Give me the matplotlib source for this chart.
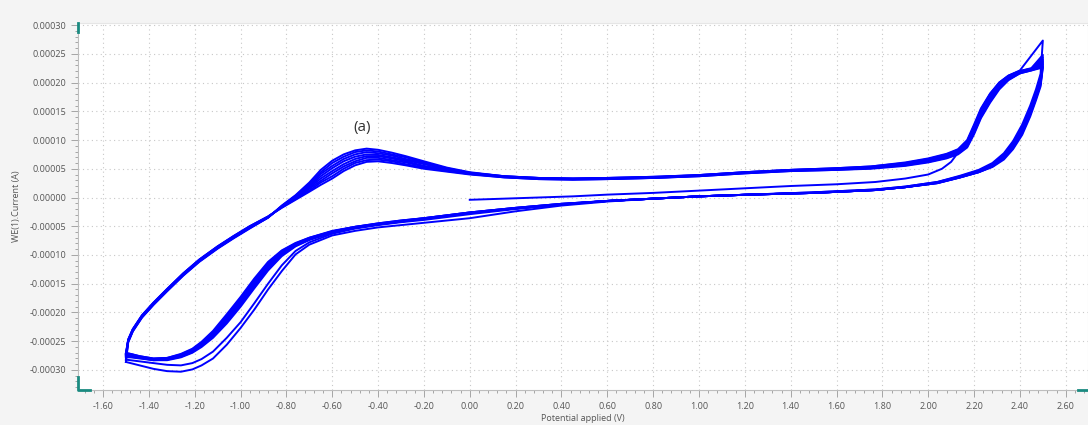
import numpy as np
import matplotlib
matplotlib.use('Agg')
import matplotlib.pyplot as plt
from matplotlib.ticker import MultipleLocator, FuncFormatter

plt.rcParams['font.family'] = ['Open Sans', 'DejaVu Sans']
plt.rcParams['axes.unicode_minus'] = False

# currents in microamps
# first sweep starts at 0 V and goes up to 2.5 V
E_start = [0.00, 0.15, 0.30, 0.45, 0.60, 0.80, 1.00, 1.20, 1.40, 1.60, 1.77, 1.90,
           2.00, 2.06, 2.10, 2.13, 2.17, 2.20, 2.23, 2.27, 2.31, 2.35, 2.40, 2.50]
fwd_c1 = [-4, -2, 0, 2, 5, 8, 12, 16, 20, 23, 27, 33,
          40, 50, 62, 78, 97, 124, 153, 180, 200, 212, 221, 273]

# positive going sweeps -1.5 -> 2.5 V
E_fwd = [-1.50, -1.49, -1.47, -1.43, -1.38, -1.32, -1.25, -1.18, -1.10, -1.03, -0.96, -0.88,
         -0.82, -0.76, -0.70, -0.65, -0.60, -0.55, -0.50, -0.45, -0.40, -0.34, -0.28, -0.20, -0.10, 0.00,
         0.15, 0.30, 0.45, 0.60, 0.80, 1.00, 1.20, 1.40, 1.60, 1.75, 1.90, 2.00, 2.08, 2.13,
         2.17, 2.20, 2.23, 2.27, 2.31, 2.35, 2.40, 2.45, 2.50]
fwd_c2 = [-286, -252, -233, -209, -187, -163, -136, -112, -89, -71, -54, -35,
          -14, 4, 26, 48, 64, 75, 82, 85, 83, 78, 72, 63, 52, 44,
          37, 34, 33, 34, 36, 39, 44, 48, 51, 54, 61, 68, 76, 84, 100, 127, 155, 181, 200, 212, 220, 225, 248]
fwd_c3 = [-282, -251, -232, -208, -186, -162, -135, -111, -88, -70, -53, -35,
          -15, 3, 24, 44, 60, 71, 79, 82, 80, 75, 70, 61, 51, 43,
          37, 34, 33, 34, 36, 39, 44, 48, 51, 54, 60, 67, 75, 83, 98, 124, 152, 179, 198, 211, 220, 224, 244]
fwd_c4 = [-278, -250, -232, -208, -186, -162, -135, -111, -88, -70, -53, -35,
          -15, 2, 21, 41, 55, 67, 75, 79, 77, 73, 67, 60, 50, 43,
          37, 34, 33, 34, 35, 39, 44, 48, 50, 53, 59, 66, 74, 81, 96, 122, 150, 177, 197, 210, 219, 224, 240]
fwd_c5 = [-276, -249, -231, -207, -185, -161, -134, -110, -87, -69, -52, -34,
          -16, 1, 19, 37, 51, 63, 71, 75, 74, 70, 65, 58, 49, 42,
          36, 33, 32, 33, 35, 38, 43, 47, 50, 52, 58, 65, 73, 80, 94, 120, 148, 175, 195, 209, 218, 223, 237]
fwd_c6 = [-274, -249, -230, -206, -184, -160, -133, -109, -86, -68, -51, -34,
          -16, -1, 17, 33, 46, 58, 67, 72, 72, 68, 63, 55, 48, 42,
          36, 33, 32, 33, 35, 38, 43, 47, 49, 52, 58, 64, 72, 79, 93, 117, 145, 172, 193, 208, 218, 223, 234]
fwd_c7 = [-273, -248, -230, -206, -184, -160, -133, -109, -86, -68, -51, -34,
          -17, -2, 15, 29, 42, 54, 63, 69, 69, 65, 61, 54, 47, 41,
          36, 33, 32, 33, 34, 38, 43, 47, 49, 51, 57, 63, 71, 78, 91, 115, 143, 170, 192, 207, 217, 222, 231]
fwd_c8 = [-272, -247, -229, -205, -183, -159, -132, -108, -85, -67, -50, -33,
          -17, -3, 12, 26, 37, 50, 60, 65, 66, 63, 58, 52, 46, 41,
          35, 32, 31, 32, 34, 37, 42, 46, 48, 51, 56, 62, 69, 76, 89, 112, 140, 167, 190, 205, 216, 221, 228]
fwd_c9 = [-271, -247, -229, -205, -183, -159, -132, -108, -85, -67, -50, -33,
          -18, -4, 10, 22, 33, 46, 56, 62, 63, 60, 56, 50, 45, 40,
          35, 32, 31, 32, 34, 37, 42, 46, 48, 50, 55, 61, 68, 75, 87, 110, 138, 165, 188, 204, 216, 221, 226]

# negative going sweeps 2.5 -> -1.5 V
E_rev = [2.50, 2.49, 2.47, 2.445, 2.41, 2.37, 2.33, 2.28, 2.22, 2.14, 2.04, 1.90, 1.77, 1.50, 1.22, 1.00,
         0.80, 0.60, 0.40, 0.20, 0.00, -0.10, -0.20, -0.30, -0.40, -0.50, -0.60, -0.70, -0.76, -0.82,
         -0.88, -0.94, -1.00, -1.06, -1.12, -1.17, -1.21, -1.26, -1.32, -1.38, -1.44, -1.48, -1.50]
rev_c1 = [273, 215, 188, 160, 127, 98, 77, 60, 48, 38, 27, 19, 14, 9, 5, 2,
          -2, -7, -14, -24, -36, -40, -44, -48, -52, -58, -66, -82, -99, -128,
          -160, -195, -227, -256, -280, -292, -299, -303, -302, -298, -292, -288, -286]
rev_c2 = [248, 208, 183, 155, 123, 95, 75, 58, 47, 37, 27, 19, 14, 9, 5, 2,
          -2, -6, -12, -20, -29, -34, -39, -43, -48, -54, -63, -78, -93, -118,
          -150, -184, -217, -244, -268, -281, -288, -292, -291, -288, -285, -283, -282]
rev_c3 = [244, 206, 182, 154, 122, 94, 74, 57, 46, 36, 26, 18, 13, 8, 5, 2,
          -2, -6, -12, -19, -27, -32, -37, -42, -47, -53, -61, -74, -85, -102,
          -127, -158, -190, -219, -244, -260, -270, -278, -283, -283, -280, -278, -278]
rev_c4 = [240, 204, 180, 152, 120, 92, 72, 56, 46, 36, 26, 18, 13, 8, 5, 2,
          -2, -6, -12, -19, -27, -32, -37, -42, -47, -53, -61, -73, -84, -100,
          -124, -155, -187, -216, -242, -258, -269, -277, -282, -283, -279, -277, -276]
rev_c5 = [237, 202, 178, 150, 118, 90, 71, 55, 45, 36, 26, 18, 13, 8, 5, 2,
          -2, -6, -12, -19, -27, -32, -37, -41, -46, -52, -60, -72, -83, -98,
          -121, -152, -184, -213, -240, -257, -268, -276, -281, -282, -278, -275, -274]
rev_c6 = [234, 200, 176, 148, 116, 89, 70, 55, 45, 36, 26, 18, 13, 8, 5, 2,
          -2, -6, -12, -19, -27, -32, -37, -41, -46, -52, -60, -72, -82, -96,
          -118, -149, -181, -211, -238, -255, -266, -275, -281, -282, -278, -274, -273]
rev_c7 = [231, 198, 174, 146, 114, 87, 69, 54, 44, 35, 25, 18, 13, 8, 5, 2,
          -2, -6, -11, -18, -26, -31, -36, -41, -46, -51, -59, -71, -81, -95,
          -116, -146, -178, -208, -236, -254, -265, -274, -280, -281, -277, -273, -272]
rev_c8 = [228, 196, 172, 144, 112, 86, 68, 54, 44, 35, 25, 18, 13, 8, 5, 2,
          -2, -6, -11, -18, -26, -31, -36, -40, -45, -51, -59, -70, -80, -93,
          -114, -143, -175, -205, -234, -252, -264, -273, -279, -280, -276, -272, -271]
rev_c9 = [226, 193, 169, 141, 109, 84, 66, 53, 44, 35, 25, 18, 13, 8, 5, 2,
          -2, -6, -11, -18, -26, -31, -36, -40, -45, -51, -58, -70, -79, -92,
          -112, -141, -173, -203, -232, -251, -263, -272, -279, -280, -276, -272, -270]

cycles = [(E_start, fwd_c1, rev_c1), (E_fwd, fwd_c2, rev_c2), (E_fwd, fwd_c3, rev_c3),
          (E_fwd, fwd_c4, rev_c4), (E_fwd, fwd_c5, rev_c5), (E_fwd, fwd_c6, rev_c6),
          (E_fwd, fwd_c7, rev_c7), (E_fwd, fwd_c8, rev_c8), (E_fwd, fwd_c9, rev_c9)]

fig = plt.figure(figsize=(10.88, 4.25), dpi=100, facecolor='#f4f4f4')
ax = fig.add_axes([78/1088, 35/425, 1 - 78/1088, 367/425])
ax.set_facecolor('white')

for ef, i_f, i_r in cycles:
    e = list(ef) + list(E_rev)
    i = np.array(list(i_f) + list(i_r)) * 1e-6
    ax.plot(e, i, color='#0000ff', lw=1.4, solid_joinstyle='round')

ax.set_xlim(-1.709, 2.697)
ax.set_ylim(-0.0003348, 0.0003035)

ax.xaxis.set_major_locator(MultipleLocator(0.2))
ax.xaxis.set_minor_locator(MultipleLocator(0.04))
ax.yaxis.set_major_locator(MultipleLocator(0.00005))
ax.yaxis.set_minor_locator(MultipleLocator(0.00001))
ax.xaxis.set_major_formatter(FuncFormatter(lambda v, p: '%.2f' % (round(v, 2) + 0.0)))
ax.yaxis.set_major_formatter(FuncFormatter(lambda v, p: '%.5f' % (round(v, 5) + 0.0)))

ax.tick_params(which='both', direction='out', colors='#999999', labelcolor='#555555',
               labelsize=6.5, width=0.6)
ax.tick_params(which='major', length=5)
ax.tick_params(which='minor', length=2.5)

ax.grid(True, which='major', color='#c8c8c8', linestyle=(0, (1, 3)), linewidth=0.8)
for s in ['left', 'bottom']:
    ax.spines[s].set_color('#bdbdbd')
    ax.spines[s].set_linewidth(0.8)
for s in ['top', 'right']:
    ax.spines[s].set_color('#e6e6e6')

# teal end markers on the axes
teal = '#1a8a80'
ax.plot([0, 0], [0.975, 1.0], transform=ax.transAxes, color=teal, lw=2, clip_on=False, zorder=6)
ax.plot([0, 0, 0.012], [0.035, 0, 0], transform=ax.transAxes, color=teal, lw=2, clip_on=False, zorder=6)
ax.plot([0.99, 1.0], [0, 0], transform=ax.transAxes, color=teal, lw=2, clip_on=False, zorder=6)

ax.set_xlabel('Potential applied (V)', fontsize=6.5, color='#555555', labelpad=2)
ax.set_ylabel('WE(1).Current (A)', fontsize=6.5, color='#555555', labelpad=6)

ax.text(-0.47, 0.000121, '(a)', fontsize=11, color='#333333', ha='center', va='center')

fig.savefig('out.png', dpi=100, facecolor=fig.get_facecolor())
